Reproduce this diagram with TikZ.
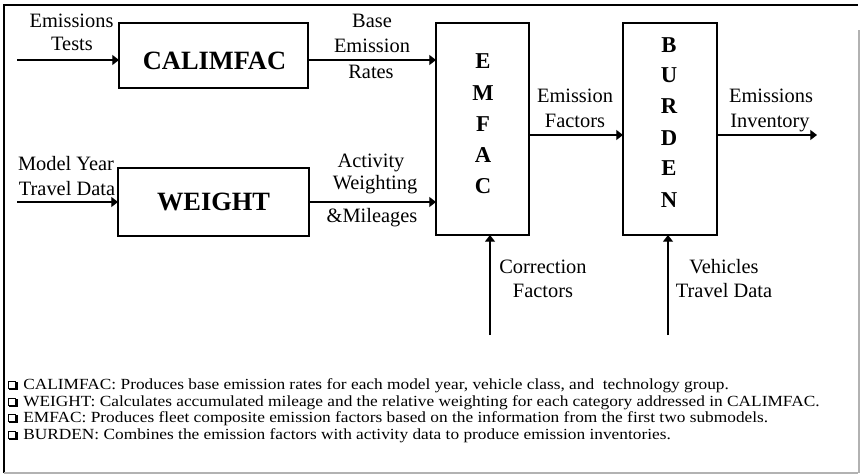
\documentclass[tikz,border=0pt]{standalone}
\usepackage{fontspec}
\setmainfont{Liberation Serif}
\newfontfamily\capfont[FakeStretch=1.12]{Liberation Serif}
\usetikzlibrary{arrows.meta}
\begin{document}
\begin{tikzpicture}[x=0.75pt,y=-0.75pt,
  box/.style={draw,line width=1.5pt,inner sep=0pt,outer sep=0pt},
  arr/.style={line width=0.8pt,-{Triangle[length=5pt,width=7.5pt]}},
  lbl/.style={anchor=base,inner sep=0pt,font=\fontsize{15.3}{18}\selectfont},
  big/.style={inner sep=0pt,font=\fontsize{19.8}{24}\selectfont\bfseries},
  ltr/.style={anchor=base,inner sep=0pt,font=\fontsize{17}{19}\selectfont\bfseries},
  captext/.style={anchor=base west,inner sep=0pt,font=\capfont\fontsize{11.6}{12}\selectfont},
  chk/.style={draw,line width=0.6pt,minimum size=5.6pt,inner sep=0pt}]
\useasboundingbox (0,0) rectangle (860,475);
% frame
\draw[line width=1.5pt] (4,473) -- (4,5) -- (858,5);
\draw[gray!60,line width=1pt] (859,30) -- (859,473);
\draw[gray!60,line width=1.2pt] (4,473) -- (858,473);
% boxes
\node[box,minimum width=141.75pt,minimum height=48.75pt] (cal) at (213.5,55.5) {};
\node[big] (caltxt) at (214.5,60.5) {CALIMFAC};
\node[box,minimum width=143.25pt,minimum height=51pt] (wgt) at (213.5,202) {};
\node[big] (wgttxt) at (213.5,202) {WEIGHT};
\node[box,minimum width=69.75pt,minimum height=159pt] (emf) at (482.5,129) {};
\node[box,minimum width=70.5pt,minimum height=159pt] (bur) at (670,129) {};
% vertical letters
\node[ltr] (e1) at (483,68) {E};
\node[ltr] (e2) at (483,100) {M};
\node[ltr] (e3) at (483,131) {F};
\node[ltr] (e4) at (483,162) {A};
\node[ltr] (e5) at (483,193) {C};
\node[ltr] (b1) at (669,52) {B};
\node[ltr] (b2) at (669,82) {U};
\node[ltr] (b3) at (669,113) {R};
\node[ltr] (b4) at (669,145) {D};
\node[ltr] (b5) at (669,175) {E};
\node[ltr] (b6) at (669,207) {N};
% connector ends
\coordinate (in1) at (17,60);
\coordinate (in2) at (17,202);
\coordinate (out) at (817,135);
\coordinate (cf) at (490,335);
\coordinate (vt) at (668,335);
\coordinate (y1) at (0,60);
\coordinate (y2) at (0,202);
\coordinate (y3) at (0,135);
% connectors
\draw[arr] (in1) -- (in1 -| cal.west);
\draw[arr] (cal.east |- y1) -- (emf.west |- y1);
\draw[arr] (in2) -- (in2 -| wgt.west);
\draw[arr] (wgt.east |- y2) -- (emf.west |- y2);
\draw[arr] (emf.east |- y3) -- (bur.west |- y3);
\draw[arr] (bur.east |- y3) -- (out);
\draw[arr] (cf) -- (cf |- emf.south);
\draw[arr] (vt) -- (vt |- bur.south);
% labels
\node[lbl] (l1a) at (71.5,27) {Emissions};
\node[lbl] (l1b) at (72,50) {Tests};
\node[lbl] (l2a) at (372,27) {Base};
\node[lbl] (l2b) at (372,52) {Emission};
\node[lbl] (l2c) at (371,78) {Rates};
\node[lbl] (l3a) at (66,170) {Model Year};
\node[lbl] (l3b) at (67,195) {Travel Data};
\node[lbl] (l4a) at (371,167) {Activity};
\node[lbl] (l4b) at (375,189) {Weighting};
\node[lbl] (l4c) at (372,222) {\&Mileages};
\node[lbl] (l5a) at (575,102) {Emission};
\node[lbl] (l5b) at (575,127) {Factors};
\node[lbl] (l6a) at (771,102) {Emissions};
\node[lbl] (l6b) at (770,127) {Inventory};
\node[lbl] (l7a) at (543,273) {Correction};
\node[lbl] (l7b) at (543,297) {Factors};
\node[lbl] (l8a) at (724,273) {Vehicles};
\node[lbl] (l8b) at (724,297) {Travel Data};
% captions
\foreach \yy/\nm in {389/c1,406/c2,422/c3,439/c4}{
  \node[chk,anchor=south west] (\nm box) at (8,\yy) {};
  \draw[line width=1.1pt] ([xshift=0.6pt,yshift=-0.3pt]\nm box.south west) -- ([xshift=0.7pt,yshift=-0.3pt]\nm box.south east) -- ([xshift=0.7pt,yshift=-0.6pt]\nm box.north east);
}
\node[captext] (c1) at (23,389) {CALIMFAC: Produces base emission rates for each model year, vehicle class, and~ technology group.};
\node[captext] (c2) at (23,406) {WEIGHT: Calculates accumulated mileage and the relative weighting for each category addressed in CALIMFAC.};
\node[captext] (c3) at (23,422) {EMFAC: Produces fleet composite emission factors based on the information from the first two submodels.};
\node[captext] (c4) at (23,439) {BURDEN: Combines the emission factors with activity data to produce emission inventories.};
\end{tikzpicture}
\end{document}
